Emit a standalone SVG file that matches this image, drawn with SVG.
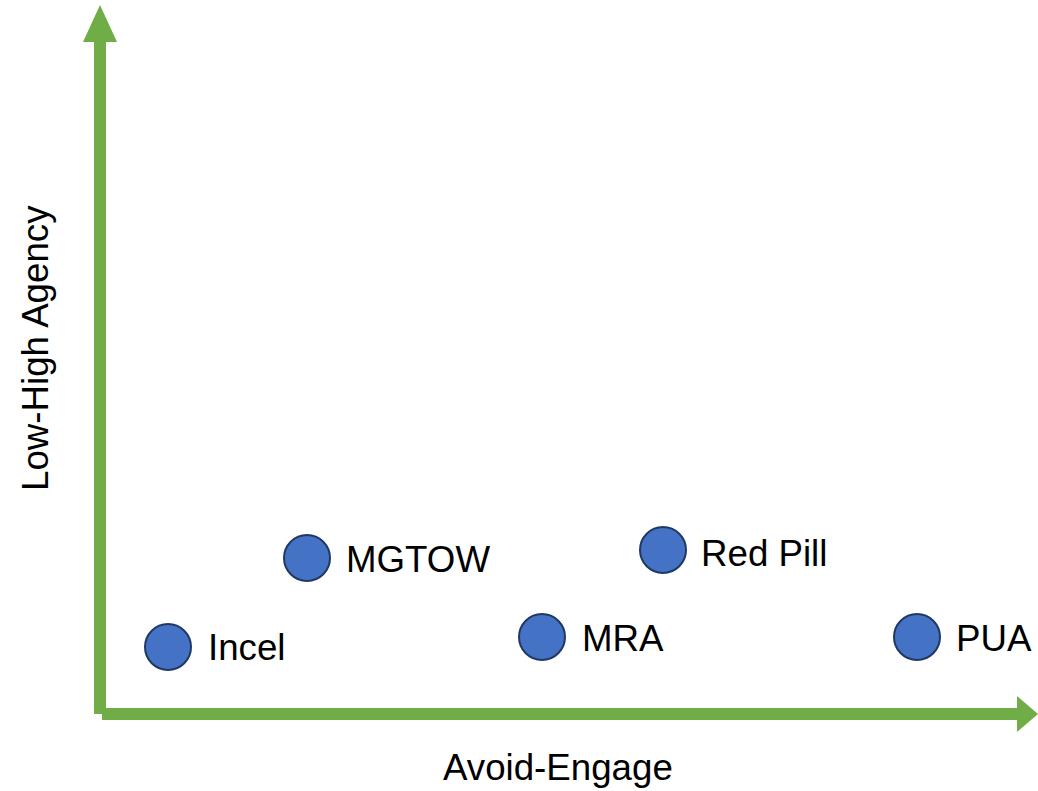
<svg xmlns="http://www.w3.org/2000/svg" width="1038" height="791" viewBox="0 0 1038 791">
<style>
.ax{fill:#70ad47}
.dot{fill:#4472c4;stroke:#1f3864;stroke-width:2}
.lbl{font-family:"Liberation Sans",Arial,sans-serif;font-size:36.7px;fill:#000}
</style>
<rect width="1038" height="791" fill="#fff"/>
<g id="connectors">
<g id="y-axis">
<rect class="ax" x="94" y="40" width="12" height="674"/>
<polygon class="ax" points="100,5 117,42 83,42"/>
</g>
<g id="x-axis">
<rect class="ax" x="102" y="708" width="917" height="12"/>
<polygon class="ax" points="1017,696 1038,714 1017,732"/>
</g>
</g>
<g id="axis-labels">
<text class="lbl" x="443" y="780">Avoid-Engage</text>
<text class="lbl" transform="translate(48,491) rotate(-90)">Low-High Agency</text>
</g>
<g id="incel"><circle class="dot" cx="168" cy="647" r="23"/><text class="lbl" x="208" y="660">Incel</text></g>
<g id="mgtow"><circle class="dot" cx="307" cy="558" r="23"/><text class="lbl" x="346" y="572">MGTOW</text></g>
<g id="redpill"><circle class="dot" cx="663" cy="550" r="23"/><text class="lbl" x="701" y="566">Red Pill</text></g>
<g id="mra"><circle class="dot" cx="542" cy="637" r="23"/><text class="lbl" x="582" y="651">MRA</text></g>
<g id="pua"><circle class="dot" cx="917" cy="637" r="23"/><text class="lbl" x="956" y="651">PUA</text></g>
</svg>
